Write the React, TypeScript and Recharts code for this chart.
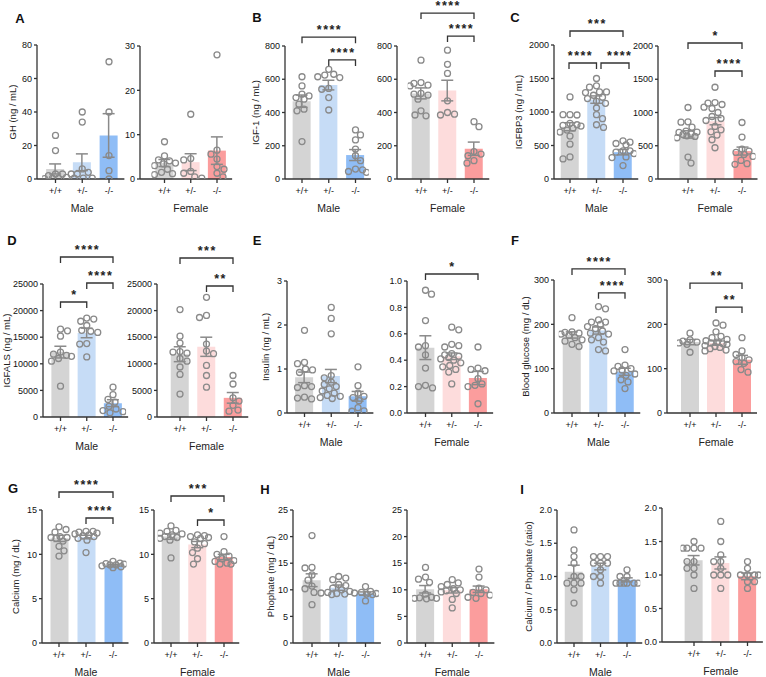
import React from 'react';
import { ComposedChart, Bar, Scatter, XAxis, YAxis, ErrorBar, Cell, ReferenceLine } from 'recharts';

const FONT = '"Liberation Sans", Arial, sans-serif';
const GENOTYPES = ['+/+', '+/-', '-/-'];
const MALE_COLORS = ['#d4d4d4', '#c6dcf6', '#8fbdf6'];
const FEMALE_COLORS = ['#d4d4d4', '#fddcdc', '#fb9d9d'];

// ---- A: GH ----
const ghMaleMean = [6, 10, 26];
const ghMaleSem = [3, 5, 13];
const ghMalePts = [
  [26, 17, 3, 3, 2, 1, 0.5, 0.5, 0.2],
  [40, 34, 6, 4, 3, 3, 0.5, 0.5, 0.5],
  [70, 40, 14, 5, 0],
];
const ghFemaleMean = [3.6, 3.8, 6.4];
const ghFemaleSem = [0.8, 1.9, 3.1];
const ghFemalePts = [
  [8.4, 5.2, 4.3, 4.1, 3.6, 3.4, 3.0, 2.2, 1.5, 1.2, 1.0],
  [14.6, 4.6, 4.3, 1.7, 1.3, 0.5, 0.2],
  [28, 6.5, 5.6, 4.5, 2.8, 2.2, 1.3, 0.5],
];
// ---- B: IGF-1 ----
const igfMaleMean = [468, 565, 144];
const igfMaleSem = [37, 29, 33];
const igfMalePts = [
  [615, 560, 510, 500, 490, 480, 450, 420, 410, 225],
  [660, 630, 625, 615, 610, 545, 540, 490, 415],
  [295, 265, 235, 180, 140, 110, 60, 55, 45, 40],
];
const igfFemaleMean = [515, 532, 182];
const igfFemaleSem = [33, 62, 40];
const igfFemalePts = [
  [715, 580, 575, 565, 560, 515, 510, 505, 480, 410, 385, 380],
  [775, 690, 635, 470, 400, 390, 385],
  [345, 315, 165, 150, 140, 110, 95],
];
// ---- C: IGFBP3 ----
const bp3MaleMean = [780, 1185, 400];
const bp3MaleSem = [60, 55, 40];
const bp3MalePts = [
  [1225, 960, 960, 955, 830, 810, 800, 790, 760, 730, 700, 640, 520, 330, 300],
  [1500, 1390, 1370, 1300, 1300, 1290, 1250, 1220, 1200, 1160, 1130, 1060, 960, 900, 810, 770],
  [570, 550, 530, 510, 420, 400, 420, 380, 330, 320, 200],
];
const bp3FemaleMean = [670, 870, 420];
const bp3FemaleSem = [55, 55, 60];
const bp3FemalePts = [
  [1075, 860, 855, 780, 720, 705, 700, 680, 670, 650, 640, 620, 330, 240],
  [1380, 1150, 1140, 1120, 1080, 1060, 1000, 940, 910, 880, 790, 740, 710, 660, 590, 470],
  [850, 630, 450, 420, 400, 370, 340, 280, 230, 220],
];
// ---- D: IGFALS ----
const alsMaleMean = [12200, 15800, 2600];
const alsMaleSem = [1100, 900, 650];
const alsMalePts = [
  [16500, 16200, 15200, 12200, 11800, 11600, 11400, 11000, 10500, 5800],
  [18600, 18400, 18000, 17200, 16300, 16100, 15900, 13800, 13700, 11300],
  [5600, 4200, 3300, 2800, 2000, 1500, 1200, 1000, 800],
];
const alsFemaleMean = [11800, 13200, 3600];
const alsFemaleSem = [1400, 1800, 1000];
const alsFemalePts = [
  [20200, 15200, 13900, 12300, 12200, 12000, 11000, 10500, 9400, 8000, 4300],
  [22500, 19100, 18700, 13700, 12400, 11900, 9700, 7800, 5600],
  [7800, 6200, 3600, 3000, 2200, 1300, 1100],
];
// ---- E: Insulin ----
const insMaleMean = [0.81, 0.84, 0.38];
const insMaleSem = [0.12, 0.15, 0.11];
const insMalePts = [
  [1.88, 1.15, 1.12, 1.0, 0.98, 0.92, 0.62, 0.6, 0.58, 0.36, 0.34, 0.32],
  [2.4, 2.15, 1.8, 0.85, 0.8, 0.7, 0.65, 0.6, 0.55, 0.5, 0.45, 0.4, 0.38, 0.35, 0.33],
  [1.05, 0.62, 0.45, 0.38, 0.35, 0.28, 0.12, 0.05, 0.04],
];
const insFemaleMean = [0.495, 0.43, 0.265];
const insFemaleSem = [0.09, 0.025, 0.05];
const insFemalePts = [
  [0.93, 0.9, 0.7, 0.51, 0.5, 0.44, 0.34, 0.21, 0.2, 0.19],
  [0.65, 0.63, 0.52, 0.51, 0.5, 0.45, 0.44, 0.43, 0.42, 0.41, 0.4, 0.38, 0.36, 0.35, 0.33, 0.31, 0.22],
  [0.5, 0.34, 0.33, 0.32, 0.26, 0.22, 0.21, 0.2, 0.07],
];
// ---- F: Blood glucose ----
const gluMaleMean = [176, 186, 93];
const gluMaleSem = [7, 8, 8];
const gluMalePts = [
  [215, 183, 182, 180, 178, 175, 170, 165, 162, 155, 150],
  [240, 235, 210, 205, 205, 200, 195, 190, 185, 180, 178, 170, 165, 160, 143, 140],
  [143, 108, 105, 100, 97, 95, 88, 85, 75, 70, 55],
];
const gluFemaleMean = [160, 158, 120];
const gluFemaleSem = [6, 5, 10];
const gluFemalePts = [
  [180, 165, 162, 160, 158, 155, 137],
  [203, 198, 183, 173, 170, 166, 163, 160, 158, 156, 155, 152, 150, 148, 145, 142, 140],
  [170, 140, 132, 125, 120, 116, 112, 98, 92],
];
// ---- G: Calcium ----
const caMaleMean = [11.8, 11.95, 8.75];
const caMaleSem = [0.35, 0.2, 0.08];
const caMalePts = [
  [13.1, 12.8, 12.5, 12.0, 11.9, 11.9, 11.8, 11.5, 10.9, 10.4, 9.8],
  [12.6, 12.6, 12.5, 12.4, 12.3, 12.2, 12.1, 12.0, 11.8, 11.6, 10.2],
  [9.2, 9.0, 8.95, 8.9, 8.8, 8.8, 8.7, 8.6, 8.5],
];
const caFemaleMean = [12.0, 11.1, 9.7];
const caFemaleSem = [0.3, 0.35, 0.3];
const caFemalePts = [
  [13.2, 12.7, 12.6, 12.4, 12.3, 12.2, 12.0, 11.9, 11.8, 11.6, 9.6],
  [12.2, 12.1, 12.0, 11.9, 11.8, 11.4, 11.2, 10.7, 10.2, 9.5, 8.9],
  [12.0, 10.3, 10.0, 9.8, 9.5, 9.3, 9.2, 9.0, 8.9, 8.9],
];
// ---- H: Phosphate ----
const phMaleMean = [11.8, 10.4, 9.3];
const phMaleSem = [1.2, 0.5, 0.3];
const phMalePts = [
  [20.2, 14.2, 14.1, 12.8, 11.8, 10.7, 10.2, 9.5, 9.4, 7.2],
  [12.5, 12.2, 11.9, 11.0, 10.8, 10.3, 10.0, 9.7, 9.5, 9.3, 9.2, 9.1],
  [10.6, 9.7, 9.5, 9.4, 9.3, 9.2, 9.1, 7.9],
];
const phFemaleMean = [10.1, 9.9, 10.1];
const phFemaleSem = [0.7, 0.5, 0.6];
const phFemalePts = [
  [14.2, 12.4, 12.0, 11.4, 9.2, 8.6, 8.5, 8.4, 8.4, 8.3],
  [11.9, 11.3, 11.0, 10.6, 10.2, 10.0, 9.8, 9.6, 9.3, 8.2, 6.6],
  [13.9, 12.4, 10.3, 10.0, 9.5, 9.3, 9.0, 8.6, 8.4],
];
// ---- I: Ca / P ratio ----
const ratioMaleMean = [1.07, 1.15, 0.95];
const ratioMaleSem = [0.1, 0.05, 0.03];
const ratioMalePts = [
  [1.7, 1.4, 1.3, 1.2, 1.0, 1.0, 0.9, 0.9, 0.9, 0.8, 0.6],
  [1.3, 1.3, 1.3, 1.2, 1.2, 1.2, 1.1, 1.0, 1.0, 0.9],
  [1.1, 1.0, 1.0, 0.9, 0.9, 0.9, 0.9, 0.9, 0.9],
];
const ratioFemaleMean = [1.22, 1.18, 0.98];
const ratioFemaleSem = [0.07, 0.09, 0.05];
const ratioFemalePts = [
  [1.5, 1.4, 1.4, 1.4, 1.4, 1.2, 1.2, 1.1, 1.1, 1.0, 0.8],
  [1.8, 1.5, 1.3, 1.2, 1.2, 1.1, 1.0, 1.0, 1.0, 0.8],
  [1.2, 1.1, 1.0, 1.0, 1.0, 1.0, 0.9, 0.9, 0.8],
];

type Bracket = { a: number; b: number; y: number; t: string; d1?: number; d2?: number; dt?: number };
type Cfg = {
  key: string; sex: 'Male' | 'Female'; axisX: number; c0: number; sp: number; top: number; zero: number;
  yMax: number; ticks: number[]; dec?: number; means: number[]; sem: number[]; pts: number[][];
  brackets?: Bracket[]; ylabel?: string; labelX?: number;
};

const CONFIGS: Cfg[] = [
  { key: 'A-M', sex: 'Male', axisX: 37, c0: 55.5, sp: 26.75, top: 45, zero: 179, yMax: 80, ticks: [0, 20, 40, 60, 80], means: ghMaleMean, sem: ghMaleSem, pts: ghMalePts, ylabel: 'GH (ng / mL)', labelX: 12 },
  { key: 'A-F', sex: 'Female', axisX: 140, c0: 164.5, sp: 26.25, top: 46, zero: 179, yMax: 30, ticks: [0, 10, 20, 30], means: ghFemaleMean, sem: ghFemaleSem, pts: ghFemalePts },
  { key: 'B-M', sex: 'Male', axisX: 285, c0: 302, sp: 26.75, top: 46, zero: 179, yMax: 800, ticks: [0, 200, 400, 600, 800], means: igfMaleMean, sem: igfMaleSem, pts: igfMalePts, ylabel: 'IGF-1 (ng / mL)', labelX: 255,
    brackets: [{ a: 0, b: 2, y: 853, t: '****' }, { a: 1, b: 2, y: 716, t: '****' }] },
  { key: 'B-F', sex: 'Female', axisX: 397, c0: 421, sp: 26.5, top: 46, zero: 179, yMax: 800, ticks: [0, 200, 400, 600, 800], means: igfFemaleMean, sem: igfFemaleSem, pts: igfFemalePts,
    brackets: [{ a: 0, b: 2, y: 998, t: '****' }, { a: 1, b: 2, y: 860, t: '****' }] },
  { key: 'C-M', sex: 'Male', axisX: 554, c0: 570, sp: 26.5, top: 45, zero: 179, yMax: 2000, ticks: [0, 500, 1000, 1500, 2000], means: bp3MaleMean, sem: bp3MaleSem, pts: bp3MalePts, ylabel: 'IGFBP3 (ng / mL)', labelX: 518,
    brackets: [{ a: 0, b: 2, y: 2209, t: '***' }, { a: 0, b: 1, y: 1731, t: '****', d1: -1, d2: 0, dt: -3 }, { a: 1, b: 2, y: 1731, t: '****', d1: 4.5, d2: 6, dt: 4 }] },
  { key: 'C-F', sex: 'Female', axisX: 658, c0: 688, sp: 27, top: 46, zero: 179, yMax: 2000, ticks: [0, 500, 1000, 1500, 2000], means: bp3FemaleMean, sem: bp3FemaleSem, pts: bp3FemalePts,
    brackets: [{ a: 0, b: 2, y: 2045, t: '*' }, { a: 1, b: 2, y: 1624, t: '****' }] },
  { key: 'D-M', sex: 'Male', axisX: 43, c0: 60.5, sp: 26.25, top: 284, zero: 417, yMax: 25000, ticks: [0, 5000, 10000, 15000, 20000, 25000], means: alsMaleMean, sem: alsMaleSem, pts: alsMalePts, ylabel: 'IGFALS (ng / mL)', labelX: 6,
    brackets: [{ a: 0, b: 2, y: 30075, t: '****' }, { a: 1, b: 2, y: 25188, t: '****' }, { a: 0, b: 1, y: 21617, t: '*' }] },
  { key: 'D-F', sex: 'Female', axisX: 157, c0: 180, sp: 26.5, top: 284, zero: 417, yMax: 25000, ticks: [0, 5000, 10000, 15000, 20000, 25000], means: alsFemaleMean, sem: alsFemaleSem, pts: alsFemalePts,
    brackets: [{ a: 0, b: 2, y: 29887, t: '***' }, { a: 1, b: 2, y: 24624, t: '**' }] },
  { key: 'E-M', sex: 'Male', axisX: 287, c0: 304.5, sp: 26.75, top: 281, zero: 413, yMax: 3, ticks: [0, 1, 2, 3], means: insMaleMean, sem: insMaleSem, pts: insMalePts, ylabel: 'Insulin (ng / mL)', labelX: 265 },
  { key: 'E-F', sex: 'Female', axisX: 407, c0: 425.5, sp: 26.25, top: 281, zero: 413, yMax: 1, ticks: [0, 0.2, 0.4, 0.6, 0.8, 1.0], dec: 1, means: insFemaleMean, sem: insFemaleSem, pts: insFemalePts,
    brackets: [{ a: 0, b: 2, y: 1.053, t: '*' }] },
  { key: 'F-M', sex: 'Male', axisX: 554, c0: 572, sp: 26.5, top: 280, zero: 413, yMax: 300, ticks: [0, 100, 200, 300], means: gluMaleMean, sem: gluMaleSem, pts: gluMalePts, ylabel: 'Blood glucose (mg / dL)', labelX: 525,
    brackets: [{ a: 0, b: 2, y: 325, t: '****' }, { a: 1, b: 2, y: 271, t: '****' }] },
  { key: 'F-F', sex: 'Female', axisX: 667, c0: 690, sp: 26, top: 280, zero: 413, yMax: 300, ticks: [0, 100, 200, 300], means: gluFemaleMean, sem: gluFemaleSem, pts: gluFemalePts,
    brackets: [{ a: 0, b: 2, y: 293, t: '**' }, { a: 1, b: 2, y: 239, t: '**' }] },
  { key: 'G-M', sex: 'Male', axisX: 42, c0: 59, sp: 27, top: 510, zero: 643, yMax: 15, ticks: [0, 5, 10, 15], means: caMaleMean, sem: caMaleSem, pts: caMalePts, ylabel: 'Calcium (mg / dL)', labelX: 15,
    brackets: [{ a: 0, b: 2, y: 17.03, t: '****' }, { a: 1, b: 2, y: 14.1, t: '****' }] },
  { key: 'G-F', sex: 'Female', axisX: 154, c0: 171, sp: 26.5, top: 510, zero: 643, yMax: 15, ticks: [0, 5, 10, 15], means: caFemaleMean, sem: caFemaleSem, pts: caFemalePts,
    brackets: [{ a: 0, b: 2, y: 16.58, t: '***' }, { a: 1, b: 2, y: 13.87, t: '*' }] },
  { key: 'H-M', sex: 'Male', axisX: 293, c0: 312, sp: 26.75, top: 510, zero: 643, yMax: 25, ticks: [0, 5, 10, 15, 20, 25], means: phMaleMean, sem: phMaleSem, pts: phMalePts, ylabel: 'Phophate (mg / dL)', labelX: 270 },
  { key: 'H-F', sex: 'Female', axisX: 407, c0: 425.5, sp: 26.75, top: 510, zero: 643, yMax: 25, ticks: [0, 5, 10, 15, 20, 25], means: phFemaleMean, sem: phFemaleSem, pts: phFemalePts },
  { key: 'I-M', sex: 'Male', axisX: 557, c0: 574, sp: 26.5, top: 510, zero: 643, yMax: 2, ticks: [0, 0.5, 1, 1.5, 2], dec: 1, means: ratioMaleMean, sem: ratioMaleSem, pts: ratioMalePts, ylabel: 'Calcium / Phophate (ratio)', labelX: 528 },
  { key: 'I-F', sex: 'Female', axisX: 662, c0: 694, sp: 26.75, top: 508, zero: 642, yMax: 2, ticks: [0, 0.5, 1, 1.5, 2], dec: 1, means: ratioFemaleMean, sem: ratioFemaleSem, pts: ratioFemalePts },
];

const LETTERS = [
  { t: 'A', x: 20, y: 18 }, { t: 'B', x: 257, y: 17 }, { t: 'C', x: 515, y: 17 },
  { t: 'D', x: 12, y: 240 }, { t: 'E', x: 257, y: 240 }, { t: 'F', x: 515, y: 240 },
  { t: 'G', x: 13, y: 488 }, { t: 'H', x: 265, y: 489 }, { t: 'I', x: 522, y: 489 },
];

// Dodge overlapping dots horizontally (beeswarm layout), offsets in pixels -> category units
function swarm(values: number[], pxPerUnit: number, sp: number, idx: number) {
  const order = values.map((_, i) => i).sort((a, b) => values[b] - values[a]);
  const placed: { x: number; y: number }[] = [];
  const out: { x: number; y: number }[] = new Array(values.length);
  const D = 6.6;
  const MAXOFF = 11;
  order.forEach((i, n) => {
    const y = values[i] * pxPerUnit;
    let best = 0;
    let bestScore = -1;
    for (let k = 0; k <= MAXOFF; k++) {
      const cands = k === 0 ? [0] : n % 2 ? [k, -k] : [-k, k];
      let done = false;
      for (const c of cands) {
        const minD = placed.reduce((m, p) => Math.min(m, Math.hypot(p.x - c, p.y - y)), Infinity);
        if (minD >= D) { best = c; done = true; break; }
        if (minD > bestScore + 0.01) { bestScore = minD; best = c; }
      }
      if (done) break;
    }
    placed.push({ x: best, y });
    out[i] = { x: idx + best / sp, y: values[i] };
  });
  return out;
}

const makeBracket = (b: Bracket) => (p: any) => {
  const x1 = Math.min(p.x1, p.x2) + (b.d1 || 0);
  const x2 = Math.max(p.x1, p.x2) + (b.d2 || 0);
  const y = p.y1;
  return (
    <g>
      <path d={`M${x1},${y + 6}L${x1},${y}L${x2},${y}L${x2},${y + 6}`} fill="none" stroke="#333" strokeWidth={1.3} />
      <text x={(x1 + x2) / 2 + 0.75 + (b.dt || 0)} y={y - 3} textAnchor="middle" fontSize={12.5} fontWeight="bold" letterSpacing={1.5} fill="#222" fontFamily={FONT}>{b.t}</text>
    </g>
  );
};

const dot = (p: any) => <circle cx={p.cx} cy={p.cy} r={3} fill="none" stroke="#8a8a8a" strokeWidth={1.3} />;

const YW = 45, MT = 48, MR = 4, XH = 34, PADR = 2;

function SubChart({ cfg }: { cfg: Cfg }) {
  const padL = cfg.c0 - cfg.sp / 2 - cfg.axisX;
  const plotW = cfg.c0 + 2.5 * cfg.sp + PADR - cfg.axisX;
  const plotH = cfg.zero - cfg.top;
  const width = YW + plotW + MR;
  const height = MT + plotH + XH + 2;
  const colors = cfg.sex === 'Male' ? MALE_COLORS : FEMALE_COLORS;
  const data = GENOTYPES.map((g, i) => ({ cat: g, mean: cfg.means[i], err: cfg.sem[i] }));
  const pxPerUnit = plotH / cfg.yMax;
  const pts = cfg.pts.flatMap((vals, i) => swarm(vals, pxPerUnit, cfg.sp, i));
  const fmt = (v: number) => (cfg.dec ? v.toFixed(cfg.dec) : String(v));
  const axisStyle = { stroke: '#333', strokeWidth: 1.3 };
  return (
    <div style={{ position: 'absolute', left: cfg.axisX - YW, top: cfg.top - MT }}>
      <ComposedChart width={width} height={height} data={data} margin={{ top: MT, right: MR, bottom: 2, left: 0 }}>
        <XAxis xAxisId="cat" dataKey="cat" type="category" allowDuplicatedCategory={false} interval={0}
          padding={{ left: padL, right: PADR }} height={XH} tickSize={4} tickMargin={5}
          axisLine={axisStyle} tickLine={axisStyle} tick={{ fontSize: 9, fill: '#111' }} />
        <XAxis xAxisId="num" dataKey="x" type="number" domain={[-0.5, 2.5]} allowDataOverflow hide
          padding={{ left: padL, right: PADR }} />
        <YAxis type="number" domain={[0, cfg.yMax]} ticks={cfg.ticks} interval={0} allowDataOverflow width={YW}
          tickSize={3} tickMargin={2} tickFormatter={fmt}
          axisLine={axisStyle} tickLine={axisStyle} tick={{ fontSize: 9, fill: '#111' }} />
        <Bar xAxisId="cat" dataKey="mean" barSize={18} isAnimationActive={false}>
          {data.map((d, i) => <Cell key={d.cat} fill={colors[i]} />)}
          <ErrorBar dataKey="err" width={6} stroke="#8a8a8a" strokeWidth={1.5} direction="y" />
        </Bar>
        <Scatter xAxisId="num" data={pts} dataKey="y" shape={dot} isAnimationActive={false} />
        {(cfg.brackets || []).map((b, i) => (
          <ReferenceLine key={i} xAxisId="cat" ifOverflow="visible"
            segment={[{ x: GENOTYPES[b.a], y: b.y }, { x: GENOTYPES[b.b], y: b.y }]}
            stroke="#333" shape={makeBracket(b)} />
        ))}
      </ComposedChart>
    </div>
  );
}

export default function App() {
  return (
    <div style={{ position: 'absolute', left: 0, top: 0, width: 766, height: 677, background: '#fff', overflow: 'hidden', fontFamily: FONT }}>
      {CONFIGS.map((c) => <SubChart key={c.key} cfg={c} />)}
      <svg width={766} height={677} style={{ position: 'absolute', left: 0, top: 0, pointerEvents: 'none' }} fontFamily={FONT}>
        {LETTERS.map((l) => (
          <text key={l.t} x={l.x} y={l.y} textAnchor="middle" dominantBaseline="central" fontSize={13} fontWeight="bold" fill="#111">{l.t}</text>
        ))}
        {CONFIGS.map((c) => (
          <text key={c.key + '-t'} x={c.c0 + c.sp} y={c.zero + 33} textAnchor="middle" fontSize={10.5} fill="#222">{c.sex}</text>
        ))}
        {CONFIGS.filter((c) => c.ylabel).map((c) => {
          const cy = (c.top + c.zero) / 2;
          return (
            <text key={c.key + '-y'} x={c.labelX} y={cy} transform={`rotate(-90 ${c.labelX} ${cy})`}
              textAnchor="middle" dominantBaseline="central" fontSize={9.5} fill="#222">{c.ylabel}</text>
          );
        })}
      </svg>
    </div>
  );
}
